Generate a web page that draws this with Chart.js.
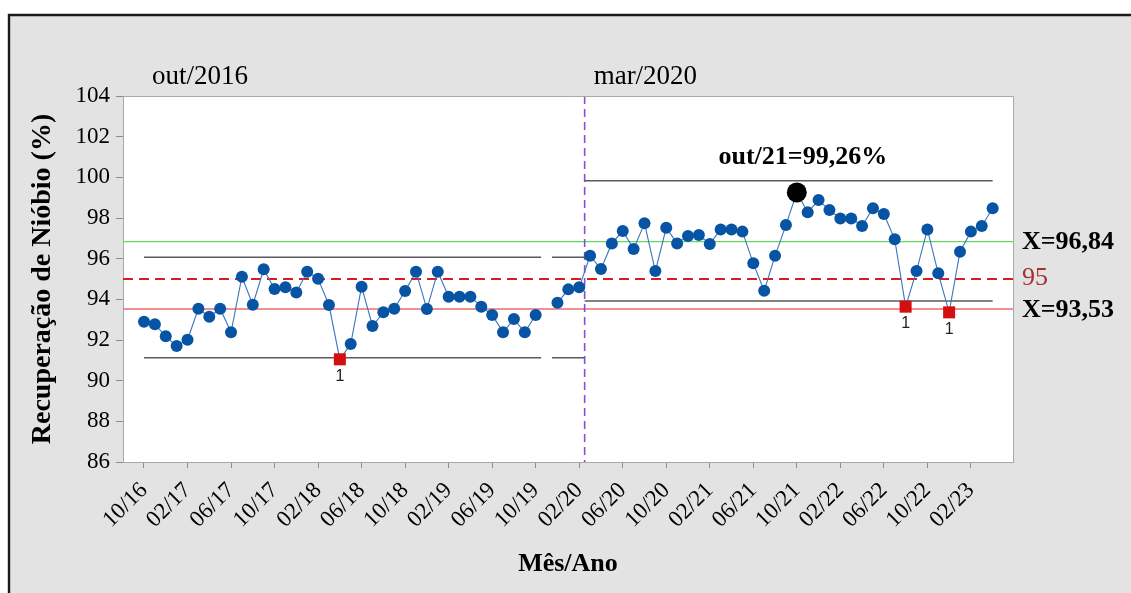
<!DOCTYPE html>
<html>
<head>
<meta charset="utf-8">
<script src="https://cdn.jsdelivr.net/npm/chart.js@4.4.0/dist/chart.umd.min.js"></script>
<style>
  html, body { margin: 0; padding: 0; background: #fff; }
  #wrap { width: 1131px; height: 593px; position: relative; }
</style>
</head>
<body>
<div id="wrap"><canvas id="chart" width="1131" height="593"></canvas></div>
<script>
// Monthly niobium recovery, Oct/2016 to Apr/2023 (Nov/2019 not reported)
const months = [
  '10/16','11/16','12/16',
  '01/17','02/17','03/17','04/17','05/17','06/17','07/17','08/17','09/17','10/17','11/17','12/17',
  '01/18','02/18','03/18','04/18','05/18','06/18','07/18','08/18','09/18','10/18','11/18','12/18',
  '01/19','02/19','03/19','04/19','05/19','06/19','07/19','08/19','09/19','10/19','11/19','12/19',
  '01/20','02/20','03/20','04/20','05/20','06/20','07/20','08/20','09/20','10/20','11/20','12/20',
  '01/21','02/21','03/21','04/21','05/21','06/21','07/21','08/21','09/21','10/21','11/21','12/21',
  '01/22','02/22','03/22','04/22','05/22','06/22','07/22','08/22','09/22','10/22','11/22','12/22',
  '01/23','02/23','03/23','04/23'
];
const recovery = [
  92.90, 92.77, 92.18,
  91.70, 92.01, 93.54, 93.14, 93.54, 92.38, 95.11, 93.73, 95.48, 94.51, 94.59, 94.34,
  95.36, 95.01, 93.72, 91.05, 91.80, 94.62, 92.69, 93.36, 93.54, 94.41, 95.36, 93.52,
  95.36, 94.13, 94.13, 94.13, 93.64, 93.23, 92.38, 93.03, 92.38, 93.23, null, 93.83,
  94.49, 94.59, 96.14, 95.49, 96.75, 97.36, 96.47, 97.74, 95.39, 97.52, 96.75, 97.11,
  97.16, 96.72, 97.44, 97.44, 97.33, 95.77, 94.42, 96.14, 97.65, 99.26, 98.28, 98.88,
  98.39, 97.98, 97.98, 97.61, 98.48, 98.20, 96.95, 93.64, 95.39, 97.44, 95.28, 93.36,
  96.34, 97.33, 97.61, 98.48
];
const xTickLabels = ['10/16','02/17','06/17','10/17','02/18','06/18','10/18','02/19','06/19','10/19',
                     '02/20','06/20','10/20','02/21','06/21','10/21','02/22','06/22','10/22','02/23'];
const yTickValues = [86, 88, 90, 92, 94, 96, 98, 100, 102, 104];

// Two process stages: before and after Mar/2020
const phaseStarts = ['10/16', '03/20'];
const phaseLabels = ['out/2016', 'mar/2020'];
const phaseUCL = [96.07, 99.83];
const phaseLCL = [91.13, 93.92];
const phaseMean = [93.53, 96.84];
const meanLabels = ['X=93,53', 'X=96,84'];
const targetValue = 95;
const targetLabel = '95';

const flaggedMonths = ['04/18', '08/22', '12/22'];   // test 1 failures
const peakMonth = '10/21';
const peakLabel = 'out/21=99,26%';

const SERIF = '"Liberation Serif", "Times New Roman", serif';
const SANS = '"Liberation Sans", Arial, sans-serif';

const flaggedIdx = flaggedMonths.map(m => months.indexOf(m));
const peakIdx = months.indexOf(peakMonth);
const phaseIdx = phaseStarts.map(m => months.indexOf(m));
const lastIdx = months.length - 1;

const points = recovery.map((v, i) => ({ x: i, y: v }));

// Step control limits per stage, broken where a month is missing
function limitSegments(values) {
  const out = [];
  phaseIdx.forEach((start, p) => {
    const end = p + 1 < phaseIdx.length ? phaseIdx[p + 1] - 1 : lastIdx;
    let i = start;
    while (i <= end) {
      if (recovery[i] === null) { i++; continue; }
      let j = i;
      while (j + 1 <= end && recovery[j + 1] !== null) j++;
      const x0 = i === 0 ? i : i - 0.5;
      const x1 = j === lastIdx ? j : j + 0.5;
      out.push({ x: x0, y: values[p] }, { x: x1, y: values[p] }, { x: x1, y: null });
      i = j + 1;
    }
  });
  return out;
}

const frameColor = '#a9a9a9';

const decorPlugin = {
  id: 'decor',
  beforeDraw(chart) {
    const { ctx, width, height, chartArea: a } = chart;
    ctx.save();
    ctx.fillStyle = '#ffffff';
    ctx.fillRect(0, 0, width, height);
    ctx.fillStyle = '#e3e3e3';
    ctx.fillRect(9, 15, width - 9, height - 15);
    ctx.strokeStyle = '#1a1a1a';
    ctx.lineWidth = 2.4;
    ctx.beginPath();
    ctx.moveTo(9, height);
    ctx.lineTo(9, 15);
    ctx.lineTo(width, 15);
    ctx.stroke();
    ctx.fillStyle = '#ffffff';
    ctx.fillRect(a.left, a.top, a.right - a.left, a.bottom - a.top);
    ctx.restore();
  },
  beforeDatasetsDraw(chart) {
    const { ctx, chartArea: a, scales: { x, y } } = chart;
    ctx.save();
    // stage means, full width
    const hline = (v, color, w, dash) => {
      const py = y.getPixelForValue(v);
      ctx.strokeStyle = color;
      ctx.lineWidth = w;
      ctx.setLineDash(dash);
      ctx.beginPath();
      ctx.moveTo(a.left, py);
      ctx.lineTo(a.right, py);
      ctx.stroke();
    };
    hline(phaseMean[1], '#62d862', 1.2, []);
    hline(phaseMean[0], '#ec6d6d', 1.5, []);
    hline(targetValue, '#d81e1e', 2, [10, 6]);
    // stage boundary
    const bx = x.getPixelForValue(phaseIdx[1] - 0.5);
    ctx.strokeStyle = '#8450d6';
    ctx.lineWidth = 1.6;
    ctx.setLineDash([8, 5]);
    ctx.beginPath();
    ctx.moveTo(bx, a.top);
    ctx.lineTo(bx, a.bottom);
    ctx.stroke();
    ctx.setLineDash([]);
    // plot frame (top and right; left/bottom come from the axis borders)
    ctx.strokeStyle = frameColor;
    ctx.lineWidth = 1;
    ctx.beginPath();
    ctx.moveTo(a.left, a.top + 0.5);
    ctx.lineTo(a.right + 0.5, a.top + 0.5);
    ctx.lineTo(a.right + 0.5, a.bottom);
    ctx.stroke();
    ctx.restore();
  },
  afterDraw(chart) {
    const { ctx, chartArea: a, scales: { x, y } } = chart;
    ctx.save();
    ctx.fillStyle = '#000';
    ctx.textBaseline = 'middle';
    ctx.textAlign = 'left';
    // stage captions
    ctx.font = `27px ${SERIF}`;
    ctx.fillText(phaseLabels[0], x.getPixelForValue(phaseIdx[0]) + 8, a.top - 19);
    ctx.fillText(phaseLabels[1], x.getPixelForValue(phaseIdx[1] - 0.5) + 9, a.top - 19);
    // peak annotation
    ctx.font = `bold 26px ${SERIF}`;
    ctx.textAlign = 'center';
    ctx.fillText(peakLabel, x.getPixelForValue(peakIdx) + 6, y.getPixelForValue(101.0));
    // right-hand labels
    ctx.textAlign = 'left';
    const rx = a.right + 9;
    ctx.fillText(meanLabels[1], rx, y.getPixelForValue(phaseMean[1]) + 1);
    ctx.fillText(meanLabels[0], rx, y.getPixelForValue(phaseMean[0]) + 1);
    ctx.font = `26px ${SERIF}`;
    ctx.fillStyle = '#a53030';
    ctx.fillText(targetLabel, rx, y.getPixelForValue(targetValue) - 1);
    // test-failure markers
    const meta = chart.getDatasetMeta(0);
    ctx.fillStyle = '#222';
    ctx.font = `16px ${SANS}`;
    ctx.textAlign = 'center';
    flaggedIdx.forEach(i => {
      const el = meta.data[i];
      ctx.fillText('1', el.x, el.y + 17);
    });
    ctx.restore();
  }
};

new Chart(document.getElementById('chart'), {
  type: 'line',
  data: {
    datasets: [
      {
        label: 'Recuperação',
        data: points,
        order: 1,
        borderColor: '#3a74bb',
        borderWidth: 1.1,
        spanGaps: false,
        pointStyle: c => flaggedIdx.includes(c.dataIndex) ? 'rect' : 'circle',
        pointRadius: c => c.dataIndex === peakIdx ? 10 : (flaggedIdx.includes(c.dataIndex) ? 8.5 : 6),
        pointBackgroundColor: c => c.dataIndex === peakIdx ? '#000000' : (flaggedIdx.includes(c.dataIndex) ? '#d40f0f' : '#0754a4'),
        pointBorderWidth: 0,
        pointHoverRadius: 0
      },
      {
        label: 'LSC',
        data: limitSegments(phaseUCL),
        order: 2,
        borderColor: '#5b5b5b',
        borderWidth: 1.5,
        pointRadius: 0,
        spanGaps: false
      },
      {
        label: 'LIC',
        data: limitSegments(phaseLCL),
        order: 2,
        borderColor: '#5b5b5b',
        borderWidth: 1.5,
        pointRadius: 0,
        spanGaps: false
      }
    ]
  },
  options: {
    responsive: false,
    animation: false,
    events: [],
    layout: { padding: { left: 0, top: 96, right: 118, bottom: 0 } },
    plugins: { legend: { display: false }, tooltip: { enabled: false } },
    scales: {
      x: {
        type: 'linear',
        min: -1.93,
        max: 79.87,
        afterBuildTicks: s => { s.ticks = xTickLabels.map(l => ({ value: months.indexOf(l) })); },
        afterFit: s => { s.height = 131; },
        grid: { drawOnChartArea: false, drawTicks: true, tickLength: 6, tickColor: '#8c8c8c' },
        border: { display: true, color: frameColor, width: 1 },
        ticks: {
          autoSkip: false,
          minRotation: 45,
          maxRotation: 45,
          padding: 9,
          color: '#000',
          font: { family: SERIF, size: 23 },
          callback: v => months[v]
        },
        title: {
          display: true,
          text: 'Mês/Ano',
          color: '#000',
          font: { family: SERIF, size: 26, weight: 'bold' },
          padding: { top: 0, bottom: 13 }
        }
      },
      y: {
        type: 'linear',
        min: 86,
        max: 104,
        afterBuildTicks: s => { s.ticks = yTickValues.map(v => ({ value: v })); },
        afterFit: s => { s.width = 123; },
        grid: { drawOnChartArea: false, drawTicks: true, tickLength: 7, tickColor: '#8c8c8c' },
        border: { display: true, color: frameColor, width: 1 },
        ticks: {
          padding: 6,
          color: '#000',
          font: { family: SERIF, size: 23 }
        },
        title: {
          display: true,
          text: 'Recuperação de Nióbio (%)',
          color: '#000',
          font: { family: SERIF, size: 28, weight: 'bold' },
          padding: { top: 26, bottom: 0 }
        }
      }
    }
  },
  plugins: [decorPlugin]
});
</script>
</body>
</html>
